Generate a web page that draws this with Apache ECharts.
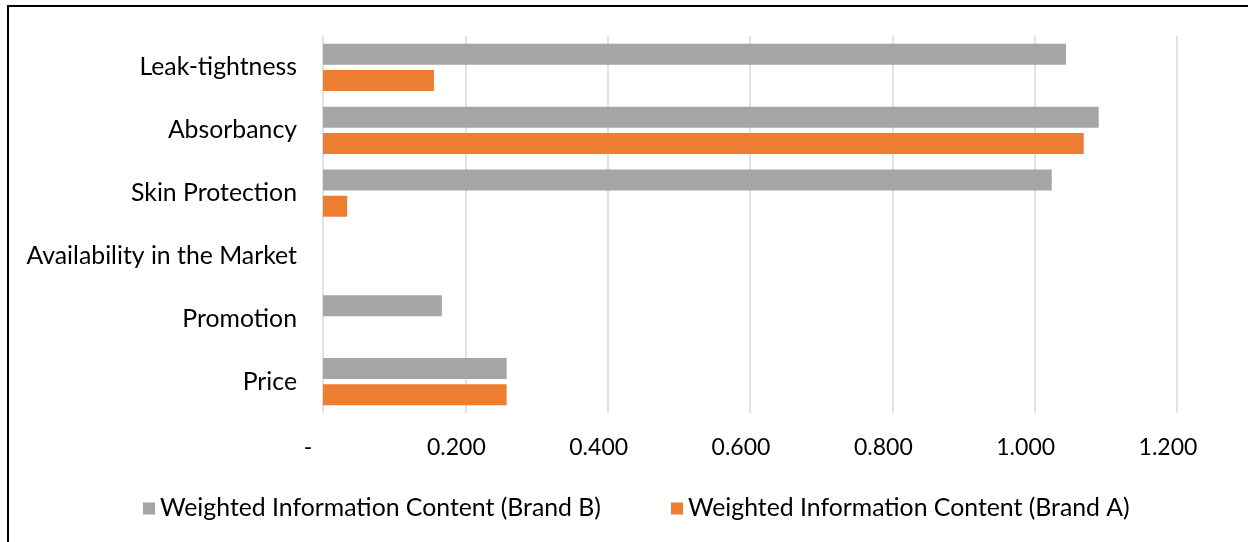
<!DOCTYPE html>
<html>
<head>
<meta charset="utf-8">
<script src="https://cdn.jsdelivr.net/npm/echarts@6/dist/echarts.min.js"></script>
<style>
html,body{margin:0;padding:0;background:#fff;}
#frame{position:absolute;left:7px;top:5px;width:1300px;height:600px;border-left:2px solid #000;border-top:2px solid #000;box-sizing:border-box;}
#chart{position:absolute;left:0;top:0;width:1248px;height:542px;}
</style>
</head>
<body>
<div id="frame"></div>
<div id="chart"></div>
<script>
var categories = ['Price', 'Promotion', 'Availability in the Market', 'Skin Protection', 'Absorbancy', 'Leak-tightness'];
var brandB = [0.258, 0.167, 0, 1.024, 1.090, 1.044];
var brandA = [0.258, 0, 0, 0.034, 1.069, 0.156];
var seriesNames = ['Weighted Information Content (Brand B)', 'Weighted Information Content (Brand A)'];

var font = 'Lato';
var fs = 24.8;
var chart = echarts.init(document.getElementById('chart'), null, {renderer: 'canvas'});
chart.setOption({
  animation: false,
  backgroundColor: 'transparent',
  grid: {left: 323, right: 71, top: 36, bottom: 129, containLabel: false},
  legend: {
    left: 138, top: 491,
    itemWidth: 12, itemHeight: 12, itemGap: 70,
    icon: 'rect',
    textStyle: {fontFamily: font, fontSize: fs, color: '#000'},
    data: seriesNames
  },
  xAxis: {
    type: 'value', min: 0, max: 1.2, interval: 0.2,
    axisLine: {show: false}, axisTick: {show: false},
    splitLine: {show: true, lineStyle: {color: '#d9d9d9', width: 1.5}},
    axisLabel: {
      fontFamily: font, fontSize: 23, color: '#000', margin: 23,
      formatter: function (v) { return v === 0 ? '{d|-}' : '{n|' + v.toFixed(3) + '}'; },
      rich: {
        d: {fontFamily: font, fontSize: 23, color: '#000', padding: [0, 30, 0, 0]},
        n: {fontFamily: font, fontSize: 23, color: '#000', padding: [0, 18, 0, 0]}
      }
    }
  },
  yAxis: {
    type: 'category', data: categories,
    axisLine: {show: false}, axisTick: {show: false},
    axisLabel: {fontFamily: font, fontSize: fs, color: '#000', margin: 26}
  },
  series: [
    {name: seriesNames[0], type: 'bar', data: brandB, barWidth: 21, barGap: '25%', itemStyle: {color: '#a5a5a5'}},
    {name: seriesNames[1], type: 'bar', data: brandA, barWidth: 21, barGap: '25%', itemStyle: {color: '#ed7d31'}}
  ]
});
</script>
</body>
</html>
